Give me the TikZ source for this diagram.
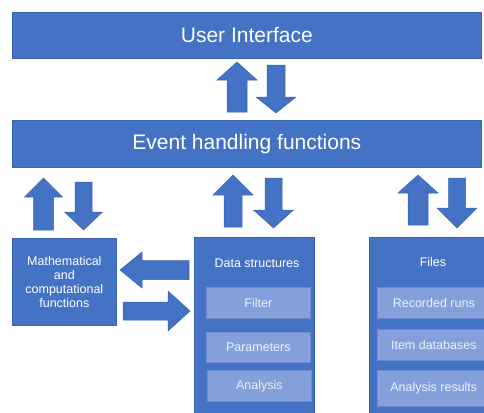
\documentclass[tikz,border=0pt]{standalone}
\usepackage{fontspec}
\setmainfont{Liberation Sans}

\definecolor{blk}{HTML}{4472C4}
\definecolor{blkedge}{HTML}{3A63AE}
\definecolor{sub}{HTML}{84A0DA}
\definecolor{subedge}{HTML}{6E8DCF}
\definecolor{subtext}{HTML}{EDF1F9}

% block arrows: centre, tip, head base, tail end, half head width, half shaft width
\newcommand\blockvert[6]{%
  \filldraw[blockarrow] (#1-#5,#3) -- (#1,#2) -- (#1+#5,#3) -- (#1+#6,#3)
    -- (#1+#6,#4) -- (#1-#6,#4) -- (#1-#6,#3) -- cycle;}
\newcommand\blockhoriz[6]{%
  \filldraw[blockarrow] (#3,#1-#5) -- (#2,#1) -- (#3,#1+#5) -- (#3,#1+#6)
    -- (#4,#1+#6) -- (#4,#1-#6) -- (#3,#1-#6) -- cycle;}

\tikzset{
  box/.style={fill=blk, draw=blkedge, line width=0.7pt, text=white,
    anchor=north west, inner sep=0pt, align=center},
  bigtext/.style={font=\fontsize{21}{25}\selectfont},
  smalltext/.style={font=\fontsize{12.5}{14}\selectfont},
  subbox/.style={fill=sub, draw=subedge, line width=0.6pt, text=subtext,
    anchor=north west, inner sep=0pt, smalltext},
  blockarrow/.style={fill=blk, draw=blkedge, line width=0.5pt, line join=miter},
}

\begin{document}
\begin{tikzpicture}[x=1pt, y=-1pt]
\useasboundingbox (0,0) rectangle (484,412);
\clip (0,0) rectangle (484,412);

% top layers
\node[box, bigtext, minimum width=469pt, minimum height=46pt] (ui) at (12,12) {User Interface};
\node[box, bigtext, minimum width=469pt, minimum height=47pt] (events) at (12,120) {Event handling functions};

% lower modules
\node[box, smalltext, minimum width=104pt, minimum height=87pt] (math) at (12,238)
  {Mathematical\\and\\computational\\functions};
\node[box, minimum width=120pt, minimum height=190pt] (data) at (194,237) {};
\node[box, minimum width=128pt, minimum height=190pt] (files) at (369,237) {};

\node[smalltext, text=white] (datatitle) at (257,263) {Data structures};
\node[smalltext, text=white] (filestitle) at (433,262) {Files};

% contents of the data structures
\node[subbox, minimum width=104pt, minimum height=31pt] (filter) at (206,287) {Filter};
\node[subbox, minimum width=104pt, minimum height=30pt] (params) at (206,332) {Parameters};
\node[subbox, minimum width=104pt, minimum height=31pt] (analysis) at (207,370) {Analysis};

% contents of the files
\node[subbox, minimum width=113pt, minimum height=31pt] (runs) at (377,287) {Recorded runs};
\node[subbox, minimum width=113pt, minimum height=31pt] (items) at (377,329) {Item databases};
\node[subbox, minimum width=113pt, minimum height=36pt] (results) at (377,370) {Analysis results};

% user interface <-> event handling
\blockvert{237}{62}{80}{112}{20}{10}
\blockvert{276}{113}{97}{65}{20}{9}

% event handling <-> mathematical functions
\blockvert{43.5}{178}{197}{230}{19}{10}
\blockvert{83.5}{230}{212}{182}{19}{8.5}

% event handling <-> data structures
\blockvert{233}{175}{195}{227}{20}{9}
\blockvert{273.5}{228}{210}{178}{20}{8.5}

% event handling <-> files
\blockvert{418}{175}{193}{225}{20}{10}
\blockvert{457}{228}{208}{178}{20}{8.5}

% data structures <-> mathematical functions
\blockhoriz{270}{120}{142}{189}{18}{9.5}
\blockhoriz{311}{190}{168}{123}{20}{9}
\end{tikzpicture}
\end{document}
